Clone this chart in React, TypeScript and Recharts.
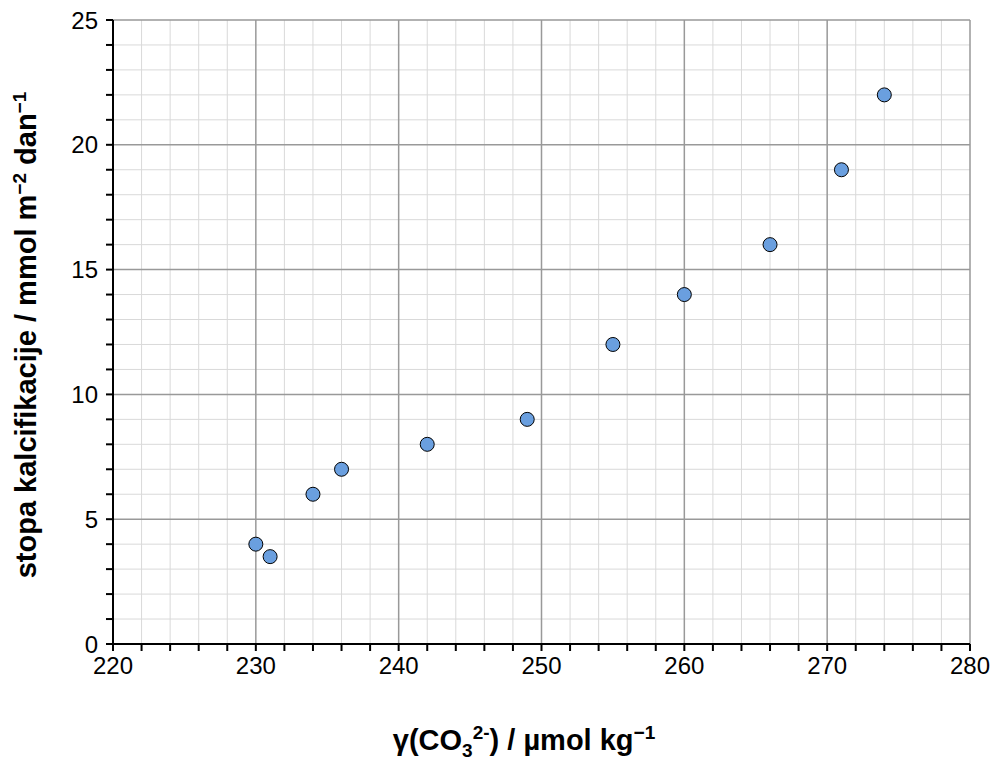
import React from "react";
import { ScatterChart, Scatter, XAxis, YAxis, ReferenceLine } from "recharts";

const xValues = [230, 231, 234, 236, 242, 249, 255, 260, 266, 271, 274];
const yValues = [4, 3.5, 6, 7, 8, 9, 12, 14, 16, 19, 22];
const xTicks = Array.from({ length: 31 }, (_, i) => 220 + i * 2);
const yTicks = Array.from({ length: 26 }, (_, i) => i);

const data = xValues.map((x, i) => ({ x, y: yValues[i] }));

export default function App() {
  const font = "'Liberation Sans', Arial, sans-serif";
  return (
    <div style={{ position: "absolute", left: 0, top: 0, width: 998, height: 761, background: "#fff", fontFamily: font }}>
      <ScatterChart width={998} height={761} margin={{ top: 20, right: 28, left: 0, bottom: 57 }}>
        {xTicks.filter(v => v % 10 !== 0).map(v => (
          <ReferenceLine key={"vx" + v} x={v} stroke="#d9d9d9" strokeWidth={1} />
        ))}
        {yTicks.filter(v => v % 5 !== 0).map(v => (
          <ReferenceLine key={"hy" + v} y={v} stroke="#d9d9d9" strokeWidth={1} />
        ))}
        {xTicks.filter(v => v % 10 === 0).map(v => (
          <ReferenceLine key={"Vx" + v} x={v} stroke="#999" strokeWidth={1.5} />
        ))}
        {yTicks.filter(v => v % 5 === 0).map(v => (
          <ReferenceLine key={"Hy" + v} y={v} stroke="#999" strokeWidth={1.5} />
        ))}
        <XAxis
          type="number"
          dataKey="x"
          domain={[220, 280]}
          ticks={xTicks}
          interval={0}
          tickFormatter={(v: number) => (v % 10 === 0 ? String(v) : "")}
          height={60}
          stroke="#000"
          strokeWidth={2}
          tickSize={7}
          tick={{ fill: "#000", fontSize: 24, fontFamily: font }}
          tickMargin={6}
        />
        <YAxis
          type="number"
          dataKey="y"
          domain={[0, 25]}
          ticks={yTicks}
          interval={0}
          tickFormatter={(v: number) => (v % 5 === 0 ? String(v) : "")}
          width={113}
          stroke="#000"
          strokeWidth={2}
          tickSize={7}
          tick={{ fill: "#000", fontSize: 24, fontFamily: font }}
          tickMargin={8}
        />
        <Scatter data={data} isAnimationActive={false}
          shape={(p: any) => <circle cx={p.cx} cy={p.cy} r={7} fill="#6a9fdf" stroke="#000" strokeWidth={1} />} />
      </ScatterChart>
      <div style={{ position: "absolute", left: 524, top: 742, width: 0, height: 0 }}>
        <div style={{ position: "absolute", transform: "translate(-50%, -50%)", whiteSpace: "nowrap", fontSize: 29, fontWeight: "bold" }}>
          γ(CO<sub style={{ fontSize: 19 }}>3</sub><sup style={{ fontSize: 19 }}>2-</sup>) / µmol kg<sup style={{ fontSize: 19 }}>−1</sup>
        </div>
      </div>
      <div style={{ position: "absolute", left: 26, top: 335, width: 0, height: 0 }}>
        <div style={{ position: "absolute", transform: "translate(-50%, -50%) rotate(-90deg)", whiteSpace: "nowrap", fontSize: 29, fontWeight: "bold" }}>
          stopa kalcifikacije / mmol m<sup style={{ fontSize: 19 }}>−2</sup> dan<sup style={{ fontSize: 19 }}>−1</sup>
        </div>
      </div>
    </div>
  );
}
